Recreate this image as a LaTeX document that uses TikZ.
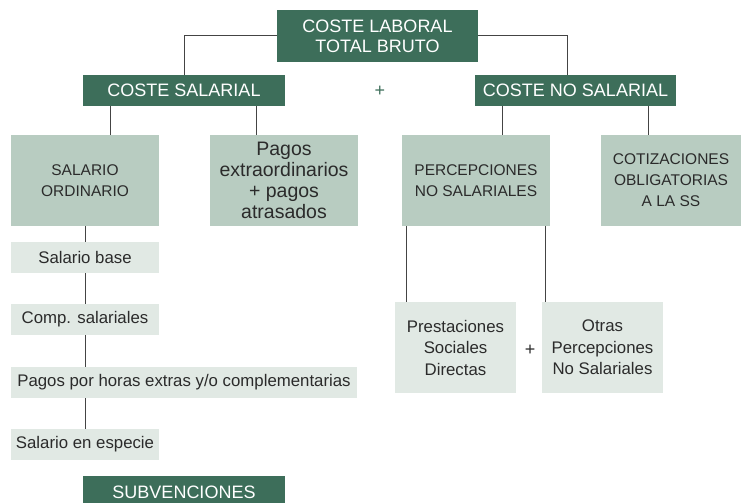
\documentclass[tikz,border=0pt]{standalone}
\usepackage{fontspec}
\setmainfont{Liberation Sans}
\definecolor{darkg}{HTML}{3D6E5A}
\definecolor{midg}{HTML}{B8CCC1}
\definecolor{lightg}{HTML}{E1E9E4}
\definecolor{txtg}{HTML}{2B2B2B}
\definecolor{linec}{HTML}{444444}
\tikzset{
  darkbox/.style={fill=darkg, text=white, inner sep=0pt, align=center,
    font=\fontsize{18}{20}\selectfont},
  midbox/.style={fill=midg, text=txtg, inner sep=0pt, align=center,
    font=\fontsize{15.5}{21}\selectfont, minimum width=148pt, minimum height=91pt},
  lightbox/.style={fill=lightg, text=txtg, inner sep=0pt, align=center,
    font=\fontsize{16.8}{21.5}\selectfont, minimum height=31pt},
  conn/.style={draw=linec, line width=1pt},
  plussign/.style={inner sep=0pt, font=\fontsize{18}{20}\selectfont}
}
\begin{document}
\begin{tikzpicture}[x=1pt,y=-1pt]
\useasboundingbox (0,0) rectangle (744,503);
\begin{scope}
\clip (0,0) rectangle (744,503);
% level 0
\node[darkbox, minimum width=201pt, minimum height=52pt] (top) at (377.5,36) {COSTE LABORAL\\TOTAL BRUTO};
% level 1
\node[darkbox, minimum width=202pt, minimum height=31pt] (cs) at (184,90.5) {COSTE SALARIAL};
\node[darkbox, minimum width=201pt, minimum height=31pt] (cns) at (575.5,90.5) {COSTE NO SALARIAL};
\node[plussign, text=darkg] (plus1) at (380,91) {+};
% level 2
\node[midbox] (so) at (85,180.5) {SALARIO\\ORDINARIO};
\node[midbox, font=\fontsize{19.5}{21}\selectfont] (pe) at (284,180.5) {Pagos\\extraordinarios\\+ pagos\\atrasados};
\node[midbox] (pns) at (476,180.5) {PERCEPCIONES\\NO SALARIALES};
\node[midbox, minimum width=140pt] (cot) at (671,180.5) {COTIZACIONES\\OBLIGATORIAS\\A LA SS};
% left column
\node[lightbox, minimum width=148pt] (sb) at (85,257.5) {Salario base};
\node[lightbox, minimum width=148pt] (cps) at (85,319.5) {Comp. salariales};
\node[lightbox, minimum width=346pt] (ph) at (184,382.5) {Pagos por horas extras y/o complementarias};
\node[lightbox, minimum width=148pt] (se) at (85,444.5) {Salario en especie};
\node[darkbox, minimum width=202pt, minimum height=32pt] (sub) at (184,492) {SUBVENCIONES};
% right lower
\node[lightbox, minimum width=121pt, minimum height=91pt] (psd) at (455.5,347.5) {Prestaciones\\Sociales\\Directas};
\node[lightbox, minimum width=121pt, minimum height=91pt] (ops) at (602.5,347.5) {Otras\\Percepciones\\No Salariales};
\node[plussign, text=txtg] (plus2) at (530,350) {+};
% connectors
\draw[conn] (top.west) -| (cs.north);
\draw[conn] (top.east) -| ([xshift=-8.5pt]cns.north);
\draw[conn] ([xshift=28pt]cs.south west) -- ([xshift=28pt]cs.south west |- so.north);
\draw[conn] ([xshift=-29pt]cs.south east) -- ([xshift=-29pt]cs.south east |- pe.north);
\draw[conn] ([xshift=28pt]cns.south west) -- ([xshift=28pt]cns.south west |- pns.north);
\draw[conn] ([xshift=-28pt]cns.south east) -- ([xshift=-28pt]cns.south east |- cot.north);
\draw[conn] ([xshift=5pt]pns.south west) -- ([xshift=5pt]pns.south west |- psd.north);
\draw[conn] ([xshift=-5pt]pns.south east) -- ([xshift=-5pt]pns.south east |- ops.north);
\draw[conn] (so.south) -- (sb.north);
\draw[conn] (sb.south) -- (cps.north);
\draw[conn] (cps.south) -- (cps.south |- ph.north);
\draw[conn] (se.north |- ph.south) -- (se.north);
\end{scope}
\end{tikzpicture}
\end{document}
